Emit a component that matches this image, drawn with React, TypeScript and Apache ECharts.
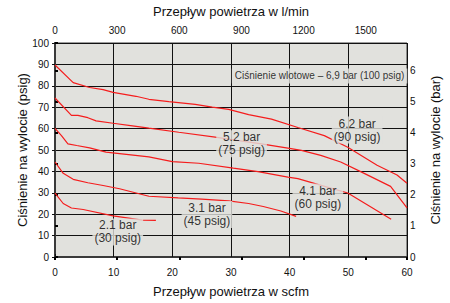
import React, { useEffect, useRef } from 'react';
import * as echarts from 'echarts';

// Przepływ (scfm) / ciśnienie (psig)
const c90x = [0, 3.1, 5.9, 8.2, 9.9, 13.8, 16, 19.4, 23.9, 26.8, 29.6, 33, 36.9, 41.4, 45.9, 49.9, 54.9, 58.3, 60];
const c90y = [89.7, 81.5, 79.2, 78.2, 76.9, 75.1, 73.7, 72.6, 71.3, 70, 69, 66.5, 64.4, 60.5, 56.7, 51.3, 42.9, 38.3, 34.5];

const c75x = [0, 2.8, 3.9, 5.6, 7, 9.9, 13.2, 16, 21.1, 27.3, 31, 34.9, 39.7, 42, 45.3, 48.7, 52.1, 57.2, 60];
const c75y = [74.3, 66.2, 66.2, 65.1, 63.6, 62.5, 61.3, 60.2, 58.3, 56, 54.5, 53, 50.9, 49.8, 47.5, 44.4, 39.9, 33, 23];

const c60x = [0, 1.1, 2.2, 3.7, 5.9, 8.7, 11, 16, 20, 24.5, 30.4, 34.6, 39.7, 41.4, 47, 49.9, 57.3];
const c60y = [60.1, 56.7, 52.9, 52.1, 51, 49, 48.3, 46.8, 44.6, 43.8, 41.5, 39.9, 37.3, 36.6, 32.2, 29.9, 17.6];

const c45x = [0, 1.4, 3.1, 5.6, 8.2, 11, 16, 21, 25, 29.6, 33, 35.5, 38.5, 41.1];
const c45y = [44.4, 39.1, 36.3, 34.7, 33.4, 31.9, 28.4, 27.6, 27, 26.2, 25, 23.6, 21.5, 19];

const c30x = [0, 1.4, 2.8, 4.8, 9.9, 14.9, 17.2];
const c30y = [29.9, 25, 22.9, 22.2, 19.2, 17.2, 17.1];

const curveLabels = ['6.2 bar\n(90 psig)', '5.2 bar\n(75 psig)', '4.1 bar\n(60 psig)', '3.1 bar\n(45 psig)', '2.1 bar\n(30 psig)'];
const curveLabelX = [51.5, 31.8, 44.8, 25.9, 10.7];
const curveLabelY = [59.3, 52.9, 28, 19.9, 11.7];
const inletLabel = 'Ciśnienie wlotowe – 6,9 bar (100 psig)';
const inletLabelPos = [45.1, 84.6];

const LPM_PER_SCFM = 28.317;
const PSI_PER_BAR = 14.504;
const SCFM_MAX = 60;
const PSIG_MAX = 100;

const FONT = "'Liberation Sans', Arial, sans-serif";
const BG = '#e1e1dd';
const RED = '#f51d1d';

const pairs = (xs: number[], ys: number[]) => xs.map((x, i) => [x, ys[i]]);

export default function App() {
  const ref = useRef<HTMLDivElement>(null);
  useEffect(() => {
    if (!ref.current) return;
    const chart = echarts.init(ref.current, undefined, { renderer: 'svg' });
    const axisLineStyle = { color: '#3a3a3a', width: 2 };
    const labelBase = { color: '#111', fontSize: 10, fontFamily: FONT };
    const nameBase = { color: '#111', fontSize: 13, fontFamily: FONT };
    const curves = [
      pairs(c90x, c90y),
      pairs(c75x, c75y),
      pairs(c60x, c60y),
      pairs(c45x, c45y),
      pairs(c30x, c30y),
    ];
    const labelData: any[] = curveLabels.map((t, i) => ({
      value: [curveLabelX[i], curveLabelY[i]],
      label: { formatter: t },
    }));
    labelData.push({
      value: inletLabelPos,
      label: { formatter: inletLabel, fontSize: 10, lineHeight: 12, padding: [2, 3, 1, 3] },
    });

    chart.setOption({
      animation: false,
      grid: {
        left: 55,
        right: 40,
        top: 42,
        bottom: 43,
        show: true,
        backgroundColor: BG,
        borderColor: '#3a3a3a',
        borderWidth: 1,
      },
      xAxis: [
        {
          type: 'value',
          position: 'bottom',
          min: 0,
          max: SCFM_MAX,
          interval: 10,
          name: 'Przepływ powietrza w scfm',
          nameLocation: 'middle',
          nameGap: 28,
          nameMoveOverlap: false,
          nameTextStyle: nameBase,
          axisLine: { show: true, lineStyle: axisLineStyle },
          axisTick: { show: true, inside: true, length: 3, lineStyle: { color: '#111', width: 1 } },
          axisLabel: { ...labelBase, margin: 10 },
          splitLine: { show: true, lineStyle: { color: '#111', width: 1 } },
        },
        {
          type: 'value',
          position: 'top',
          min: 0,
          max: SCFM_MAX * LPM_PER_SCFM,
          interval: 300,
          name: 'Przepływ powietrza w l/min',
          nameLocation: 'middle',
          nameGap: 25,
          nameMoveOverlap: false,
          nameTextStyle: nameBase,
          axisLine: { show: true, lineStyle: axisLineStyle },
          axisTick: { show: true, inside: true, length: 3, lineStyle: { color: '#000', width: 2 } },
          axisLabel: {
            ...labelBase,
            margin: 8,
            formatter: (v: number) => (Math.abs(v % 300) < 1e-6 ? String(v) : ''),
          },
          splitLine: { show: false },
        },
      ],
      yAxis: [
        {
          type: 'value',
          position: 'left',
          min: 0,
          max: PSIG_MAX,
          interval: 10,
          name: 'Ciśnienie na wylocie (psig)',
          nameLocation: 'middle',
          nameGap: 26,
          nameMoveOverlap: false,
          nameTextStyle: nameBase,
          axisLine: { show: true, lineStyle: axisLineStyle },
          axisTick: { show: true, length: 3, lineStyle: { color: '#111', width: 1 } },
          axisLabel: { ...labelBase, margin: 6 },
          splitLine: { show: true, lineStyle: { color: '#111', width: 1 } },
        },
        {
          type: 'value',
          position: 'right',
          min: 0,
          max: PSIG_MAX / PSI_PER_BAR,
          interval: 1,
          name: 'Ciśnienie na wylocie (bar)',
          nameLocation: 'middle',
          nameGap: 22,
          nameMoveOverlap: false,
          nameTextStyle: nameBase,
          axisLine: { show: true, lineStyle: axisLineStyle },
          axisTick: { show: true, length: 3, lineStyle: { color: '#000', width: 2 } },
          axisLabel: {
            ...labelBase,
            margin: 3,
            formatter: (v: number) => (Math.abs(v - Math.round(v)) < 1e-6 ? String(v) : ''),
          },
          splitLine: { show: false },
        },
      ],
      series: [
        ...curves.map((d) => ({
          type: 'line',
          xAxisIndex: 0,
          yAxisIndex: 0,
          data: d,
          showSymbol: false,
          symbol: 'none',
          z: 3,
          lineStyle: { color: RED, width: 1.2 },
        })),
        {
          type: 'scatter',
          xAxisIndex: 0,
          yAxisIndex: 0,
          symbolSize: 0,
          z: 10,
          silent: true,
          data: labelData,
          label: {
            show: true,
            position: 'inside',
            color: '#000',
            fontSize: 12,
            lineHeight: 13,
            fontFamily: FONT,
            align: 'center',
            backgroundColor: BG,
            padding: [1, 2, 0, 2],
          },
        },
      ],
    });
    return () => chart.dispose();
  }, []);
  return (
    <div
      ref={ref}
      style={{ position: 'fixed', left: 0, top: 0, width: 450, height: 303, background: '#fff' }}
    />
  );
}
